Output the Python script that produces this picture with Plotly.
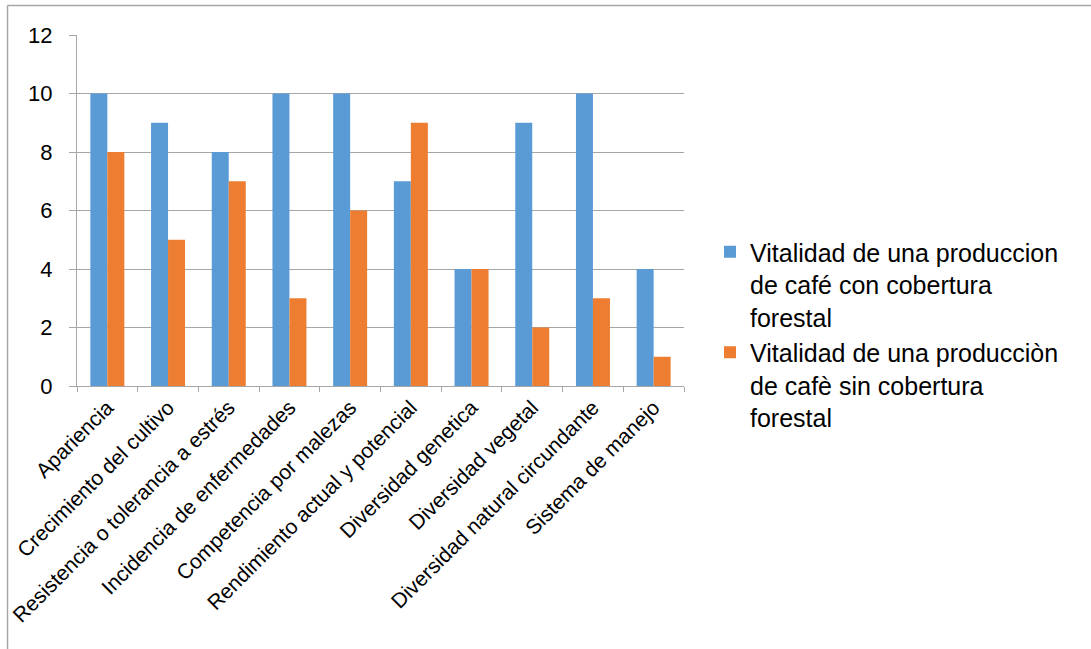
import plotly.graph_objects as go

categories = ["Apariencia", "Crecimiento del cultivo", "Resistencia o tolerancia a estrés",
              "Incidencia de enfermedades", "Competencia por malezas",
              "Rendimiento actual y potencial", "Diversidad genetica", "Diversidad vegetal",
              "Diversidad natural circundante", "Sistema de manejo"]
con_cobertura = [10, 9, 8, 10, 10, 7, 4, 9, 10, 4]
sin_cobertura = [8, 5, 7, 3, 6, 9, 4, 2, 3, 1]
series_names = ["Vitalidad de una produccion<br>de café con cobertura<br>forestal",
                "Vitalidad de una producciòn<br>de cafè sin cobertura<br>forestal"]
y_ticks = [0, 2, 4, 6, 8, 10, 12]

W, H = 1091, 649
L, R, T, B = 77, 684, 35, 386

def px_x(p):
    return (p - L) / (R - L)

def px_y(p):
    return (B - p) / (B - T)

FONT = "Liberation Sans, Arial"

fig = go.Figure()
fig.add_trace(go.Bar(x=categories, y=con_cobertura, name=series_names[0],
                     marker=dict(color="#5B9BD5", line=dict(width=0))))
fig.add_trace(go.Bar(x=categories, y=sin_cobertura, name=series_names[1],
                     marker=dict(color="#ED7D31", line=dict(width=0))))

fig.update_layout(
    width=W, height=H,
    margin=dict(l=L, r=W - R, t=T, b=H - B, autoexpand=False),
    paper_bgcolor="white", plot_bgcolor="white",
    barmode="group", bargap=0.44, bargroupgap=0,
    font=dict(family=FONT, color="#000000"),
    showlegend=True,
    legend=dict(x=px_x(710), y=px_y(229), xanchor="left", yanchor="top",
                font=dict(size=25, family=FONT),
                valign="top", tracegroupgap=2, bgcolor="rgba(0,0,0,0)",
                itemwidth=30),
    shapes=[
        dict(type="line", xref="paper", yref="paper",
             x0=px_x(7.5), x1=px_x(1091), y0=px_y(5.5), y1=px_y(5.5),
             line=dict(color="#A6A6A6", width=1.5), layer="below"),
        dict(type="line", xref="paper", yref="paper",
             x0=px_x(7.5), x1=px_x(7.5), y0=px_y(5.5), y1=px_y(700),
             line=dict(color="#A6A6A6", width=1.5), layer="below"),
    ],
)
fig.update_xaxes(
    type="category", tickangle=-45, tickson="boundaries", automargin=False,
    ticks="outside", ticklen=5, tickcolor="#A6A6A6", tickwidth=1,
    showline=True, linecolor="#A6A6A6", linewidth=1,
    showgrid=False, tickfont=dict(size=21, family=FONT),
)
fig.update_yaxes(
    range=[0, 12], tickvals=y_ticks, ticks="outside", ticklen=7, automargin=False,
    tickcolor="#A6A6A6", showline=True, linecolor="#A6A6A6", linewidth=1,
    showgrid=True, gridcolor="#A6A6A6", gridwidth=1, zeroline=False,
    ticklabelstandoff=12,
    tickfont=dict(size=22, family=FONT),
)

fig.write_html("out.html")
